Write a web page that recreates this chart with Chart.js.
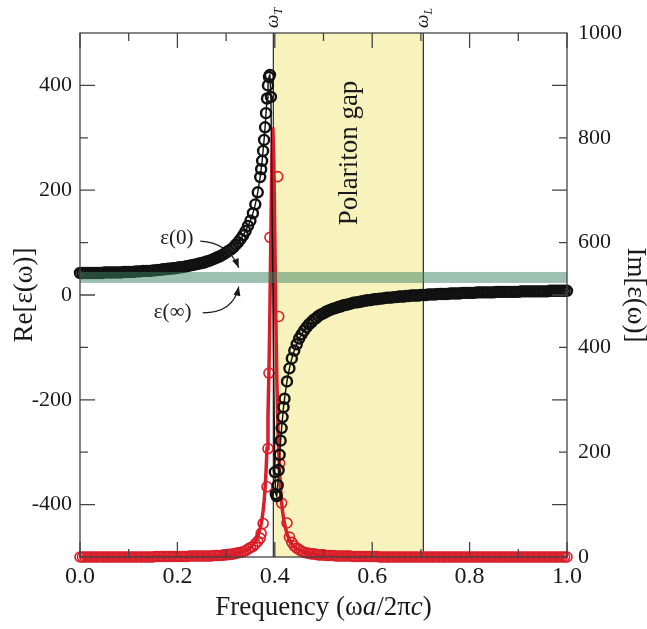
<!DOCTYPE html>
<html>
<head>
<meta charset="utf-8">
<script src="https://cdn.jsdelivr.net/npm/chart.js@4.4.1/dist/chart.umd.min.js"></script>
<style>
  html, body { margin: 0; padding: 0; background: #fff; }
  #wrap { width: 647px; height: 629px; position: relative; }
</style>
</head>
<body>
<div id="wrap"><canvas id="chart"></canvas></div>
<script>
// frequency grid (omega a / 2 pi c)
const freq = [
  0,0.005,0.01,0.015,0.02,0.025,0.03,0.035,0.04,0.045,
  0.05,0.055,0.06,0.065,0.07,0.075,0.08,0.085,0.09,0.095,
  0.1,0.105,0.11,0.115,0.12,0.125,0.13,0.135,0.14,0.145,
  0.15,0.155,0.16,0.165,0.17,0.175,0.18,0.185,0.19,0.195,
  0.2,0.205,0.21,0.215,0.22,0.225,0.23,0.235,0.24,0.245,
  0.25,0.255,0.26,0.265,0.27,0.275,0.28,0.285,0.29,0.295,
  0.3,0.305,0.31,0.315,0.32,0.325,0.33,0.335,0.34,0.345,
  0.35,0.355,0.36,0.365,0.37,
  0.372,0.374,0.376,0.378,0.38,0.382,0.384,0.386,0.388,0.39,
  0.392,0.394,0.396,0.398,0.4,0.402,0.404,0.406,0.408,0.41,
  0.412,0.414,0.416,0.418,0.42,
  0.425,0.43,0.435,0.44,0.445,0.45,0.455,0.46,0.465,0.47,
  0.475,0.48,0.485,0.49,0.495,0.5,0.505,0.51,0.515,0.52,
  0.525,0.53,0.535,0.54,0.545,0.55,0.555,0.56,0.565,0.57,
  0.575,0.58,0.585,0.59,0.595,0.6,0.605,0.61,0.615,0.62,
  0.625,0.63,0.635,0.64,0.645,0.65,0.655,0.66,0.665,0.67,
  0.675,0.68,0.685,0.69,0.695,0.7,
  0.705,0.71,0.715,0.72,0.725,0.73,0.735,0.74,0.745,0.75,
  0.755,0.76,0.765,0.77,0.775,0.78,0.785,0.79,0.795,0.8,
  0.805,0.81,0.815,0.82,0.825,0.83,0.835,0.84,0.845,0.85,
  0.855,0.86,0.865,0.87,0.875,0.88,0.885,0.89,0.895,0.9,
  0.905,0.91,0.915,0.92,0.925,0.93,0.935,0.94,0.945,0.95,
  0.955,0.96,0.965,0.97,0.975,0.98,0.985,0.99,0.995,1.0
];

// Re[eps] (black circles + line), null = no sample there
const reEps = [
  42,42,42,42,42,42,42,42,42,42,
  43,43,43,43,43,43,43,43,44,44,
  44,44,44,45,45,45,46,46,46,46,
  47,47,48,48,49,49,50,50,51,51,
  52,53,53,54,55,56,57,58,59,60,
  61,62,64,65,67,69,71,73,75,78,
  81,84,87,91,96,101,107,114,122,132,
  142,156,173,196,225,
  240,256,275,296,320,347,375,400,416,420,
  378,null,null,null,-338,-380,-384,-363,-334,-305,
  -278,-254,-233,-214,-198,
  -165,-140,-121,-106,-94,-83,-75,-68,-62,-56,
  -52,-47,-44,-40,-37,-35,-32,-30,-28,-26,
  -25,-23,-22,-20,-19,-18,-17,-15,-14,-14,
  -13,-12,-11,-10,-10,-9,-8,-8,-7,-7,
  -6,-5,-5,-5,-4,-4,-3,-3,-3,-2,
  -2,-1,-1,-1,-1,0,
  0,0,1,1,1,1,2,2,2,2,
  2,3,3,3,3,3,4,4,4,4,
  4,4,5,5,5,5,5,5,5,5,
  6,6,6,6,6,6,6,6,6,6,
  7,7,7,7,7,7,7,7,7,7,
  7,7,8,8,8,8,8,8,8,8
];

// Im[eps] fitted curve (red line)
const imFit = [
  0,0,0,0,0,0,0,0,0,0,
  0,0,0,0,0,0,0,0,0,0,
  0,0,0,0,0,0,0,0,0,0,
  0,1,1,1,1,1,1,1,1,1,
  1,1,1,1,1,2,2,2,2,2,
  2,2,2,2,2,3,3,3,3,4,
  4,5,5,6,7,8,9,10,12,15,
  18,23,29,39,55,
  63,74,88,106,130,163,207,268,355,473,
  621,761,820,755,612,465,349,264,203,160,
  129,105,87,74,63,
  44,33,25,20,16,13,11,9,8,7,
  6,6,5,4,4,4,3,3,3,3,
  2,2,2,2,2,2,2,1,1,1,
  1,1,1,1,1,1,1,1,0,0,
  0,0,0,0,0,0,0,0,0,0,
  0,0,0,0,0,0,
  0,0,0,0,0,0,0,0,0,0,
  0,0,0,0,0,0,0,0,0,0,
  0,0,0,0,0,0,0,0,0,0,
  0,0,0,0,0,0,0,0,0,0,
  0,0,0,0,0,0,0,0,0,0,
  0,0,0,0,0,0,0,0,0,0
];

// Im[eps] samples (red circles), null = no sample there
const imPts = [
  0,0,0,0,0,0,0,0,0,0,
  0,0,0,0,0,0,0,0,0,0,
  0,0,0,0,0,0,0,0,0,0,
  0,1,1,1,1,1,1,1,1,1,
  1,1,1,1,1,2,2,2,2,2,
  2,2,2,2,2,3,3,3,3,4,
  4,5,5,6,7,8,9,10,12,15,
  18,20,25,30,36,
  45,null,64,null,null,null,134,207,351,610,
  null,null,null,null,null,null,null,726,459,179,
  null,103,null,null,null,
  65,38,28,21,17,14,11,9,8,7,
  6,6,5,4,4,4,3,3,3,3,
  2,2,2,2,2,2,2,1,1,1,
  1,1,1,1,1,1,1,1,0,0,
  0,0,0,0,0,0,0,0,0,0,
  0,0,0,0,0,0,
  0,0,0,0,0,0,0,0,0,0,
  0,0,0,0,0,0,0,0,0,0,
  0,0,0,0,0,0,0,0,0,0,
  0,0,0,0,0,0,0,0,0,0,
  0,0,0,0,0,0,0,0,0,0,
  0,0,0,0,0,0,0,0,0,0
];

const freqTicks = [0, 0.2, 0.4, 0.6, 0.8, 1.0];
const reTicks = [-400, -200, 0, 200, 400];
const imTicks = [0, 200, 400, 600, 800, 1000];

const omegaT = 0.397;
const omegaL = 0.705;
const bandLow = 23;   // eps(inf)
const bandHigh = 44;  // eps(0)

const SERIF = "'Liberation Serif', 'DejaVu Serif', serif";
const RED = '#d91e2a';

function richText(ctx, parts, x, y) {
    // parts: [text, italic?, size]
    let total = 0;
    const widths = parts.map(([t, it, sz]) => {
        ctx.font = (it ? 'italic ' : '') + sz + 'px ' + SERIF;
        const w = ctx.measureText(t).width;
        total += w;
        return w;
    });
    let cx = x - total / 2;
    parts.forEach(([t, it, sz, dy], i) => {
        ctx.font = (it ? 'italic ' : '') + sz + 'px ' + SERIF;
        ctx.fillText(t, cx, y + (dy || 0));
        cx += widths[i];
    });
}

function curvedArrow(ctx, x0, y0, cx, cy, x1, y1) {
    ctx.beginPath();
    ctx.moveTo(x0, y0);
    ctx.quadraticCurveTo(cx, cy, x1, y1);
    ctx.stroke();
    const ang = Math.atan2(y1 - cy, x1 - cx);
    const L = 9, W = 3.5;
    ctx.beginPath();
    ctx.moveTo(x1, y1);
    ctx.lineTo(x1 - L * Math.cos(ang) + W * Math.sin(ang), y1 - L * Math.sin(ang) - W * Math.cos(ang));
    ctx.lineTo(x1 - L * Math.cos(ang) - W * Math.sin(ang), y1 - L * Math.sin(ang) + W * Math.cos(ang));
    ctx.closePath();
    ctx.fill();
}

function midpoints(arr) {
    return arr.slice(1).map((v, i) => (v + arr[i]) / 2);
}

const decorations = {
    id: 'decorations',
    beforeDatasetsDraw(chart) {
        const { ctx, chartArea: a, scales: { x } } = chart;
        const x1 = x.getPixelForValue(omegaT), x2 = x.getPixelForValue(omegaL);
        ctx.save();
        ctx.fillStyle = '#f8f2bd';
        ctx.fillRect(x1, a.top, x2 - x1, a.bottom - a.top);
        ctx.strokeStyle = '#2a2a2a';
        ctx.lineWidth = 1.2;
        [x1, x2].forEach(px => {
            ctx.beginPath();
            ctx.moveTo(px, a.top);
            ctx.lineTo(px, a.bottom);
            ctx.stroke();
        });
        ctx.restore();
    },
    afterDatasetsDraw(chart) {
        const { ctx, chartArea: a, scales: { x, y } } = chart;
        ctx.save();

        // eps(0) .. eps(inf) band, drawn over the data
        const yb1 = y.getPixelForValue(bandHigh), yb2 = y.getPixelForValue(bandLow);
        ctx.fillStyle = 'rgba(60,130,100,0.5)';
        ctx.fillRect(a.left, yb1, a.right - a.left, yb2 - yb1);

        // frame
        ctx.strokeStyle = '#444';
        ctx.lineWidth = 1.3;
        ctx.strokeRect(a.left, a.top, a.right - a.left, a.bottom - a.top);

        // inward ticks, mirrored on opposite sides
        ctx.beginPath();
        const xMinor = midpoints(freqTicks);
        const yMinor = midpoints(reTicks).concat([-300, 300]);
        freqTicks.forEach(v => {
            const px = x.getPixelForValue(v);
            ctx.moveTo(px, a.bottom); ctx.lineTo(px, a.bottom - 15);
            ctx.moveTo(px, a.top); ctx.lineTo(px, a.top + 15);
        });
        xMinor.forEach(v => {
            const px = x.getPixelForValue(v);
            ctx.moveTo(px, a.bottom); ctx.lineTo(px, a.bottom - 8);
            ctx.moveTo(px, a.top); ctx.lineTo(px, a.top + 8);
        });
        reTicks.forEach(v => {
            const py = y.getPixelForValue(v);
            ctx.moveTo(a.left, py); ctx.lineTo(a.left + 15, py);
            ctx.moveTo(a.right, py); ctx.lineTo(a.right - 15, py);
        });
        yMinor.forEach(v => {
            const py = y.getPixelForValue(v);
            ctx.moveTo(a.left, py); ctx.lineTo(a.left + 8, py);
            ctx.moveTo(a.right, py); ctx.lineTo(a.right - 8, py);
        });
        ctx.stroke();

        ctx.fillStyle = '#1a1a1a';
        ctx.strokeStyle = '#1a1a1a';
        ctx.lineWidth = 1.2;

        // eps(0) / eps(inf) labels with arrows
        ctx.textBaseline = 'middle';
        ctx.font = '21px ' + SERIF;
        ctx.textAlign = 'center';
        ctx.fillText('ε(0)', x.getPixelForValue(0.199), y.getPixelForValue(108));
        ctx.fillText('ε(∞)', x.getPixelForValue(0.19), y.getPixelForValue(-34));
        curvedArrow(ctx,
            x.getPixelForValue(0.247), y.getPixelForValue(103),
            x.getPixelForValue(0.305), y.getPixelForValue(100),
            x.getPixelForValue(0.326), y.getPixelForValue(52));
        curvedArrow(ctx,
            x.getPixelForValue(0.252), y.getPixelForValue(-34),
            x.getPixelForValue(0.315), y.getPixelForValue(-34),
            x.getPixelForValue(0.326), y.getPixelForValue(16));

        // Polariton gap
        ctx.save();
        ctx.translate(357, 153);
        ctx.rotate(-Math.PI / 2);
        ctx.textAlign = 'center';
        ctx.textBaseline = 'alphabetic';
        ctx.font = '27px ' + SERIF;
        ctx.fillText('Polariton gap', 0, 0);
        ctx.restore();

        ctx.restore();
    },
    afterDraw(chart) {
        const { ctx, chartArea: a, scales: { x } } = chart;
        ctx.save();
        ctx.fillStyle = '#1a1a1a';
        ctx.textBaseline = 'alphabetic';
        ctx.textAlign = 'left';

        // omega_T, omega_L markers above the frame
        [[omegaT, 'T'], [omegaL, 'L']].forEach(([f, sub]) => {
            ctx.save();
            ctx.translate(x.getPixelForValue(f) + 5, 28);
            ctx.rotate(-Math.PI / 2);
            ctx.font = 'italic 19px ' + SERIF;
            ctx.fillText('ω', 0, 0);
            const w = ctx.measureText('ω').width;
            ctx.font = 'italic 12px ' + SERIF;
            ctx.fillText(sub, w, 4);
            ctx.restore();
        });

        // axis titles
        richText(ctx, [['Frequency (ω', false, 27], ['a', true, 27], ['/2π', false, 27], ['c', true, 27], [')', false, 27]],
            (a.left + a.right) / 2, 615);

        ctx.save();
        ctx.translate(32, (a.top + a.bottom) / 2);
        ctx.rotate(-Math.PI / 2);
        richText(ctx, [['Re[ε(ω)]', false, 27]], 0, 0);
        ctx.restore();

        ctx.save();
        ctx.translate(628, (a.top + a.bottom) / 2);
        ctx.rotate(Math.PI / 2);
        richText(ctx, [['Im[ε(ω)]', false, 27]], 0, 0);
        ctx.restore();

        ctx.restore();
    }
};

const blackSeries = freq.map((f, i) => ({ x: f, y: reEps[i] }));
const redLine = freq.map((f, i) => ({ x: f, y: imFit[i] }));
const redPoints = freq.map((f, i) => ({ x: f, y: imPts[i] }));

const tickFontY = { family: SERIF, size: 22 };

new Chart(document.getElementById('chart'), {
    type: 'scatter',
    data: {
        datasets: [
            {
                data: blackSeries,
                yAxisID: 'y',
                showLine: true,
                spanGaps: true,
                borderColor: '#111',
                borderWidth: 1.4,
                pointRadius: 5,
                pointStyle: 'circle',
                pointBorderColor: '#111',
                pointBackgroundColor: 'rgba(0,0,0,0)',
                pointBorderWidth: 2.4,
                clip: false,
            },
            {
                data: redPoints,
                yAxisID: 'y2',
                showLine: false,
                pointRadius: 5,
                pointStyle: 'circle',
                pointBorderColor: RED,
                pointBackgroundColor: 'rgba(0,0,0,0)',
                pointBorderWidth: 1.6,
                clip: false,
            },
            {
                data: redLine,
                yAxisID: 'y2',
                showLine: true,
                borderColor: RED,
                borderWidth: 3.5,
                pointRadius: 0,
                clip: false,
            }
        ]
    },
    options: {
        responsive: true,
        maintainAspectRatio: false,
        animation: false,
        events: [],
        layout: { padding: { top: 33, left: 0, right: 0, bottom: 0 } },
        plugins: { legend: { display: false }, tooltip: { enabled: false } },
        scales: {
            x: {
                type: 'linear',
                position: 'bottom',
                min: 0,
                max: 1,
                grid: { display: false, drawTicks: false },
                border: { display: false },
                afterBuildTicks: s => { s.ticks = freqTicks.map(v => ({ value: v })); },
                afterFit: s => { s.height = 72; },
                ticks: {
                    padding: 5,
                    color: '#1a1a1a',
                    font: { family: SERIF, size: 24 },
                    maxRotation: 0,
                    callback: v => v.toFixed(1),
                }
            },
            y: {
                position: 'left',
                min: -500,
                max: 500,
                grid: { display: false, drawTicks: false },
                border: { display: false },
                afterBuildTicks: s => { s.ticks = reTicks.map(v => ({ value: v })); },
                afterFit: s => { s.width = 80; },
                ticks: { padding: 8, color: '#1a1a1a', font: tickFontY, callback: v => String(v) }
            },
            y2: {
                position: 'right',
                min: 0,
                max: 1000,
                grid: { display: false, drawTicks: false },
                border: { display: false },
                afterBuildTicks: s => { s.ticks = imTicks.map(v => ({ value: v })); },
                afterFit: s => { s.width = 80; },
                ticks: { padding: 11, color: '#1a1a1a', font: tickFontY, callback: v => String(v) }
            }
        }
    },
    plugins: [decorations]
});
</script>
</body>
</html>
